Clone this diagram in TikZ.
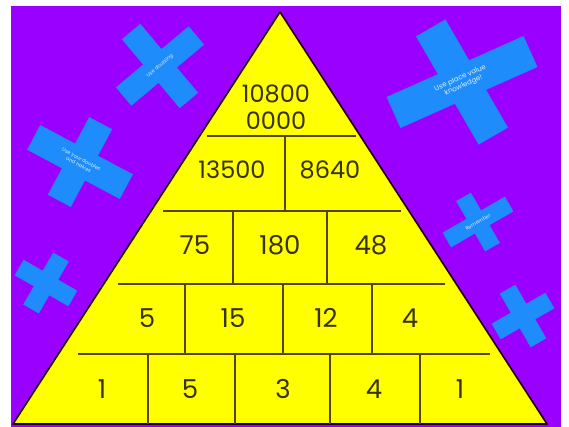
\documentclass[tikz,border=0pt]{standalone}
\usepackage{fontspec}
\setmainfont{Poppins}
\begin{document}
\begin{tikzpicture}[x=1pt,y=-1pt,
  num/.style={text=numcol,font=\fontsize{24}{26}\selectfont,inner sep=0pt},
  bignum/.style={text=numcol,font=\fontsize{26}{28}\selectfont,inner sep=0pt},
  armtext/.style={inner sep=0pt,text=white!85!crossblue,font=\fontsize{5}{6}\selectfont,align=center},
  grid/.style={draw=linecol,line width=1.3pt}]
\definecolor{bg}{RGB}{153,0,255}
\definecolor{crossblue}{RGB}{30,140,250}
\definecolor{tri}{RGB}{255,255,0}
\definecolor{numcol}{RGB}{55,50,10}
\definecolor{linecol}{RGB}{80,70,10}
\useasboundingbox (0,0) rectangle (569,427);
\fill[white] (0,0) rectangle (569,427);
\fill[bg] (11,6) rectangle (561,427);
% crosses: \myarm{cx}{cy}{angle}{length}{width}
\newcommand\myarm[5]{\fill[crossblue,shift={(#1,#2)},rotate=#3] (-#4/2,-#5/2) rectangle (#4/2,#5/2);}
\myarm{160}{66}{-50}{90}{24}
\myarm{160}{66}{40}{95}{24}
\node[armtext,rotate=40] (c1) at (160,66) {Use doubling};
\myarm{462}{82}{-60}{125}{34}
\myarm{462}{82}{24}{150}{34}
\node[armtext,rotate=24,font=\fontsize{7}{8}\selectfont] (c2) at (462,82) {Use place value\\knowledge!};
\myarm{80}{162}{62}{88}{26}
\myarm{80}{162}{-28}{105}{28}
\node[armtext,rotate=-28] (c3) at (80,162) {Use your doubles\\and halves};
\myarm{46}{283}{60}{60}{18}
\myarm{46}{283}{-30}{62}{18}
\myarm{478}{222}{-60}{58}{17}
\myarm{478}{222}{30}{72}{17}
\node[armtext,rotate=30] (c5) at (478,222) {Remember};
\myarm{523}{316}{-60}{62}{18}
\myarm{523}{316}{30}{62}{18}
% triangle
\filldraw[fill=tri,draw=black!70!red!40!black,line width=1.6pt,line join=round] (280,12) -- (547,424) -- (13,424) -- cycle;
% grid lines
\draw[grid] (207,136) -- (356,136);
\draw[grid] (163,211) -- (401,211);
\draw[grid] (118,284) -- (445,284);
\draw[grid] (78,354) -- (490,354);
\draw[grid] (285,136) -- (285,211);
\draw[grid] (233,211) -- (233,284);
\draw[grid] (327,211) -- (327,284);
\draw[grid] (185,284) -- (185,354);
\draw[grid] (283,284) -- (283,354);
\draw[grid] (372,284) -- (372,354);
\draw[grid] (148,354) -- (148,424);
\draw[grid] (235,354) -- (235,424);
\draw[grid] (330,354) -- (330,424);
\draw[grid] (420,354) -- (420,424);
% numbers
\node[num] (t1) at (276,94) {10800};
\node[num] (t2) at (276,121) {0000};
\node[num] (r21) at (232,170) {13500};
\node[num] (r22) at (330,170) {8640};
\node[bignum] (r31) at (195,245) {75};
\node[bignum] (r32) at (280,245) {180};
\node[bignum] (r33) at (371,245) {48};
\node[bignum] (r41) at (147,318) {5};
\node[bignum] (r42) at (233,318) {15};
\node[bignum] (r43) at (326,318) {12};
\node[bignum] (r44) at (410,318) {4};
\node[bignum] (r51) at (102,389) {1};
\node[bignum] (r52) at (190,389) {5};
\node[bignum] (r53) at (283,389) {3};
\node[bignum] (r54) at (374,389) {4};
\node[bignum] (r55) at (460,389) {1};
\end{tikzpicture}
\end{document}
